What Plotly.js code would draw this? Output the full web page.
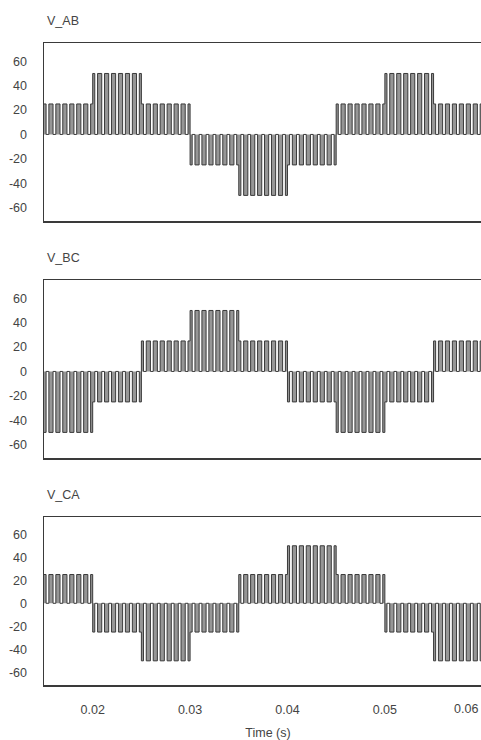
<!DOCTYPE html>
<html>
<head>
<meta charset="utf-8">
<script src="https://cdn.plot.ly/plotly-3.0.1.min.js"></script>
<style>
  html, body { margin: 0; padding: 0; overflow: hidden; background: #fff; }
  #chart { width: 500px; height: 740px; }
</style>
</head>
<body>
<div id="chart"></div>
<script>
// ---- data ----
const segmentEdges = [0.015, 0.020, 0.025, 0.030, 0.035, 0.040, 0.045, 0.050, 0.055, 0.060];
const levelsAB = [25, 50, 25, -25, -50, -25, 25, 50, 25];
const levelsBC = [-50, -25, 25, 50, 25, -25, -50, -25, 25];
const levelsCA = [25, -25, -50, -25, 25, 50, 25, -25, -50];
const pulsesPerSegment = 7;
const pulseDuty = 0.6;
const panelTitles = ['V_AB', 'V_BC', 'V_CA'];
const yTickVals = [-60, -40, -20, 0, 20, 40, 60];
const yTickText = ['-60', '-40', '-20', '0', '20', '40', '60'];
const xTickVals = [0.02, 0.03, 0.04, 0.05, 0.06];
const xTickText = ['0.02', '0.03', '0.04', '0.05', '0.06'];

// Build PWM step path from segment levels
function buildWave(levels) {
  const x = [], y = [];
  for (let s = 0; s < levels.length; s++) {
    const a = segmentEdges[s], L = levels[s];
    const p = (segmentEdges[s + 1] - a) / pulsesPerSegment;
    for (let k = 0; k < pulsesPerSegment; k++) {
      const ps = a + k * p;
      const hiEnd = ps + p * pulseDuty / 2;
      const loEnd = ps + p * (1 - pulseDuty / 2);
      x.push(ps, hiEnd, hiEnd, loEnd, loEnd, ps + p);
      y.push(L, L, 0, 0, L, L);
    }
  }
  return { x, y };
}

const series = [levelsAB, levelsBC, levelsCA];
const axSuffix = ['', '2', '3'];
const traces = series.map((lv, i) => {
  const w = buildWave(lv);
  return {
    x: w.x, y: w.y, type: 'scatter', mode: 'lines',
    xaxis: 'x' + axSuffix[i], yaxis: 'y' + axSuffix[i],
    line: { color: '#3a3a3a', width: 1 },
    fill: 'tozeroy', fillcolor: '#969696',
    hoverinfo: 'skip', showlegend: false
  };
});

const H = 740;
const panelPx = [[43, 221], [280, 458], [517, 685]];
const domains = panelPx.map(p => [1 - p[1] / H, 1 - p[0] / H]);
const fontFam = '"Liberation Sans", Arial, sans-serif';
const txtColor = '#444444';
const tickFont = { family: fontFam, size: 12.5, color: txtColor };

const layout = {
  width: 500, height: H,
  margin: { l: 44, r: 8, t: 0, b: 0 },
  paper_bgcolor: '#fff', plot_bgcolor: '#fff',
  showlegend: false,
  annotations: [],
};

for (let i = 0; i < 3; i++) {
  const xa = {
    domain: [0, 1], range: [0.015, 0.061], anchor: 'y' + axSuffix[i],
    showline: true, mirror: true, linecolor: '#3a3a3a', linewidth: 1.5,
    showgrid: false, zeroline: false, ticks: '',
    tickvals: xTickVals.slice(0, 4), ticktext: xTickText.slice(0, 4),
    showticklabels: i === 2, tickfont: tickFont, ticklabelstandoff: 12,
    fixedrange: true
  };
  if (i === 2) {
    xa.title = { text: 'Time (s)', font: { family: fontFam, size: 12.5, color: txtColor }, standoff: 12 };
  }
  const ya = {
    domain: domains[i], range: [-71, 75], anchor: 'x' + axSuffix[i],
    showline: true, mirror: true, linecolor: '#3a3a3a', linewidth: 1.5,
    showgrid: false, zeroline: false, ticks: '',
    tickvals: yTickVals, ticktext: yTickText, tickfont: tickFont,
    ticklabelstandoff: 13, fixedrange: true
  };
  layout['xaxis' + axSuffix[i]] = xa;
  layout['yaxis' + axSuffix[i]] = ya;
  layout.annotations.push({
    text: panelTitles[i], xref: 'paper', yref: 'paper',
    x: 0, y: domains[i][1], xanchor: 'left', yanchor: 'bottom',
    xshift: 1, yshift: 13, showarrow: false,
    font: { family: fontFam, size: 12.5, color: txtColor }
  });
}
// last x tick label is drawn inside the visible area (shifted left as in the reference)
layout.annotations.push({
  text: xTickText[4], xref: 'x3', yref: 'paper',
  x: xTickVals[4], y: domains[2][0], xanchor: 'right', yanchor: 'top',
  yshift: -15, xshift: -2, showarrow: false, font: tickFont
});

Plotly.newPlot('chart', traces, layout, { staticPlot: true, displayModeBar: false });
</script>
</body>
</html>
